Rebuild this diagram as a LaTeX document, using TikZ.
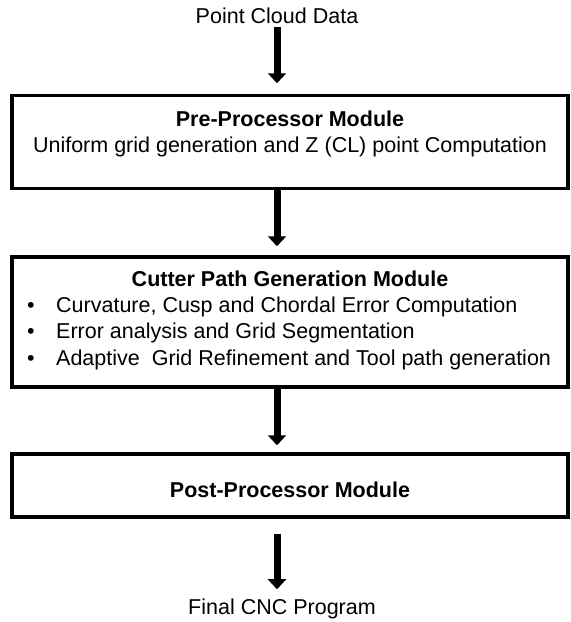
\documentclass[tikz,border=0pt]{standalone}
\usepackage{fontspec}
\setmainfont{Liberation Sans}
\usetikzlibrary{arrows.meta}

\begin{document}
\begin{tikzpicture}[x=1pt, y=-1pt,
    every node/.style={font=\fontsize{21.5}{26}\selectfont, inner sep=2pt},
    module/.style={draw, line width=3.5pt, minimum width=556pt, inner sep=0pt},
    heading/.style={anchor=base, font=\fontsize{21.5}{26}\selectfont\bfseries},
    flow/.style={-{Triangle[width=18pt, length=10pt]}, line width=7pt}]
  \useasboundingbox (0,0) rectangle (571,622);

  % Input data and pre-processing stage
  \node[anchor=base] (data) at (277,23) {Point Cloud Data};
  \node[module, minimum height=93pt] (pre) at (290,142) {};
  \node[heading] (preTitle) at (290,126) {Pre-Processor Module};
  \node[anchor=base] (preText) at (290,152) {Uniform grid generation and Z (CL) point Computation};

  % Cutter path stage with its three steps
  \node[module, minimum height=130pt] (cut) at (290,322) {};
  \node[heading] (cutTitle) at (290,286) {Cutter Path Generation Module};
  \node[anchor=base] (dotA) at (31,312) {\textbullet};
  \node[anchor=base] (dotB) at (31,338) {\textbullet};
  \node[anchor=base] (dotC) at (31,365) {\textbullet};
  \node[anchor=base west, inner sep=0pt] (stepA) at (56,312) {Curvature, Cusp and Chordal Error Computation};
  \node[anchor=base west, inner sep=0pt] (stepB) at (56,338) {Error analysis and Grid Segmentation};
  \node[anchor=base west, inner sep=0pt] (stepC) at (56,365) {Adaptive\ \ Grid Refinement and Tool path generation};

  % Post-processing and the output program
  \node[module, minimum height=63pt] (post) at (290,485.5) {};
  \node[heading] (postTitle) at (290,497) {Post-Processor Module};
  \node[anchor=base] (final) at (282,614) {Final CNC Program};

  % Flow arrows between the stages
  \draw[flow, shorten <=2pt, shorten >=10.5pt] (data.south) -- (data.south |- pre.north);
  \draw[flow, shorten >=9pt] (pre.south -| data) -- (cut.north -| data);
  \draw[flow, shorten >=7pt] (cut.south -| data) -- (post.north -| data);
  \draw[flow, shorten <=15pt, shorten >=7pt] (post.south -| data) -- (final.north -| data);
\end{tikzpicture}
\end{document}
